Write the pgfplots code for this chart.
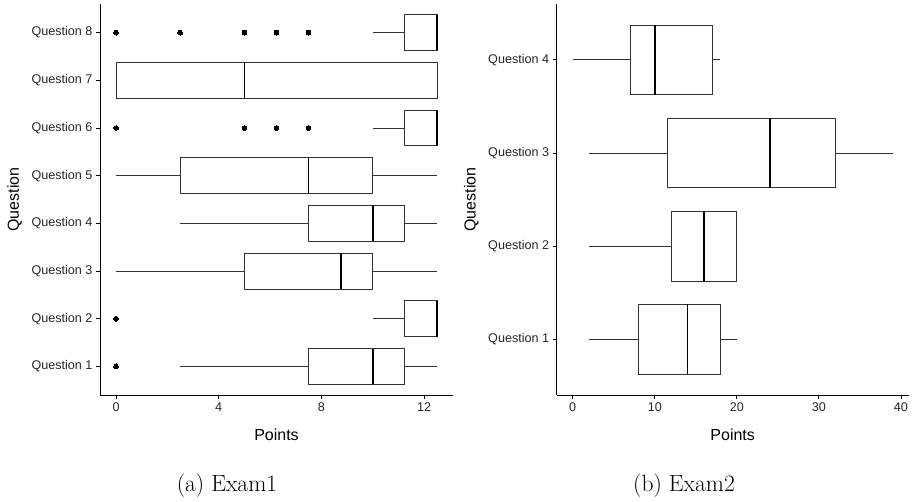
\documentclass[border=0pt]{standalone}
\usepackage{fontspec}
\usepackage{pgfplots}
\pgfplotsset{compat=1.18}
\usepgfplotslibrary{statistics}
\newfontfamily\arial{Liberation Sans}

\pgfplotsset{
  ggbox/.style={
    scale only axis,
    axis lines=left,
    axis line style={-, line width=0.8pt, black},
    tick align=outside,
    major tick length=4pt,
    tick style={black, line width=0.8pt},
    ticklabel style={font=\arial\fontsize{12.6}{14}\selectfont, text=black!85},
    /pgf/number format/assume math mode=true,
    label style={font=\arial\fontsize{16}{18}\selectfont},
    xlabel={Points},
    ylabel={Question},
    xlabel style={at={(axis description cs:0.5,0)}, anchor=base, yshift=-45.7pt},
    ylabel style={at={(axis description cs:0,0.5)}, anchor=base, yshift=81pt},
    boxplot/draw direction=x,
    boxplot/whisker extend=0,
    boxplot/every box/.style={draw=black!80, fill=white, line width=0.8pt},
    boxplot/every whisker/.style={draw=black!80, line width=0.8pt},
    boxplot/every median/.style={draw=black, line width=1.8pt},
  },
}
\newcommand{\bx}[6]{\addplot[black, mark=*, mark size=2.4pt, mark options={fill=black, draw=black, line width=0pt},
  boxplot prepared={draw position=#1, lower whisker=#2, lower quartile=#3, median=#4,
  upper quartile=#5, upper whisker=#6, box extend=0.75}]}

\begin{document}
\begin{tikzpicture}
\useasboundingbox (0,0) rectangle (912pt,501pt);

\begin{axis}[ggbox, at={(100pt,106pt)}, anchor=south west,
  width=353pt, height=391pt,
  xmin=-0.625, xmax=13.125, xtick={0,4,8,12},
  ymin=0.4, ymax=8.6, ytick={1,2,3,4,5,6,7,8},
  yticklabels={Question 1,Question 2,Question 3,Question 4,Question 5,Question 6,Question 7,Question 8}]
\bx{1}{2.5}{7.5}{10}{11.25}{12.5} table[row sep=\\, y index=0] {0\\};
\bx{2}{10}{11.25}{12.5}{12.5}{12.5} table[row sep=\\, y index=0] {0\\};
\bx{3}{0}{5}{8.75}{10}{12.5} coordinates {};
\bx{4}{2.5}{7.5}{10}{11.25}{12.5} coordinates {};
\bx{5}{0}{2.5}{7.5}{10}{12.5} coordinates {};
\bx{6}{10}{11.25}{12.5}{12.5}{12.5} table[row sep=\\, y index=0] {0\\5\\6.25\\7.5\\};
\bx{7}{0}{0}{5}{12.5}{12.5} coordinates {};
\bx{8}{10}{11.25}{12.5}{12.5}{12.5} table[row sep=\\, y index=0] {0\\2.5\\5\\6.25\\7.5\\};
\end{axis}

\begin{axis}[ggbox, at={(556.7pt,106pt)}, anchor=south west,
  width=352pt, height=391pt,
  xmin=-1.95, xmax=40.95, xtick={0,10,20,30,40},
  ymin=0.4, ymax=4.6, ytick={1,2,3,4},
  yticklabels={Question 1,Question 2,Question 3,Question 4}]
\bx{1}{2}{8}{14}{18}{20} coordinates {};
\bx{2}{2}{12}{16}{20}{20} coordinates {};
\bx{3}{2}{11.5}{24}{32}{39} coordinates {};
\bx{4}{0}{7}{10}{17}{18} coordinates {};
\end{axis}

\node[anchor=base, font=\fontsize{23.5}{28}\selectfont] at (227pt,9.3pt) {(a) Exam1};
\node[anchor=base, font=\fontsize{23.5}{28}\selectfont] at (684pt,9.3pt) {(b) Exam2};
\end{tikzpicture}
\end{document}
